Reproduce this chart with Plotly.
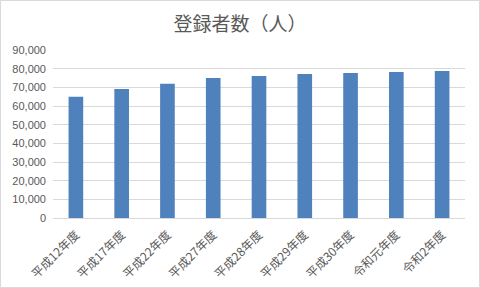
import plotly.graph_objects as go

categories = ["平成12年度", "平成17年度", "平成22年度", "平成27年度", "平成28年度",
              "平成29年度", "平成30年度", "令和元年度", "令和2年度"]
values = [64900, 69100, 71900, 75000, 76100, 77200, 77700, 78200, 78800]
title_text = "登録者数（人）"

FONT = "Noto Sans CJK JP"
GRAY = "#595959"

fig = go.Figure(go.Bar(x=categories, y=values, marker_color="#4F81BD",
                       marker_line_width=0))

W, H = 480, 288
ml, mr, mt, mb = 53, 15, 50, 70
fig.update_layout(
    width=W, height=H,
    margin=dict(l=ml, r=mr, t=mt, b=mb),
    paper_bgcolor="white", plot_bgcolor="white",
    bargap=0.68,
    showlegend=False,
    title=dict(text=title_text, x=0.5, xanchor="center", y=0.915, yanchor="middle",
               font=dict(family=FONT, size=19, color=GRAY)),
    font=dict(family=FONT, color=GRAY),
    xaxis=dict(tickangle=-45, tickfont=dict(size=12, color=GRAY, family=FONT),
               showline=True, linecolor="#D9D9D9", linewidth=1,
               ticks="", showgrid=False, ticklabelstandoff=4, automargin=False),
    yaxis=dict(range=[0, 90000], dtick=10000, tickformat=",d",
               tickfont=dict(size=11, color=GRAY, family="Liberation Sans"),
               showgrid=True, gridcolor="#D9D9D9", gridwidth=1,
               zeroline=False, showline=False, ticks="",
               ticklabelstandoff=6, automargin=False),
)

pw = W - ml - mr
ph = H - mt - mb
fig.add_shape(type="rect", xref="paper", yref="paper",
              x0=(-ml + 0.5) / pw, x1=1 + (mr - 0.5) / pw,
              y0=(-mb + 0.5) / ph, y1=1 + (mt - 0.5) / ph,
              line=dict(color="#D9D9D9", width=1), layer="below")

fig.write_html("out.html")
